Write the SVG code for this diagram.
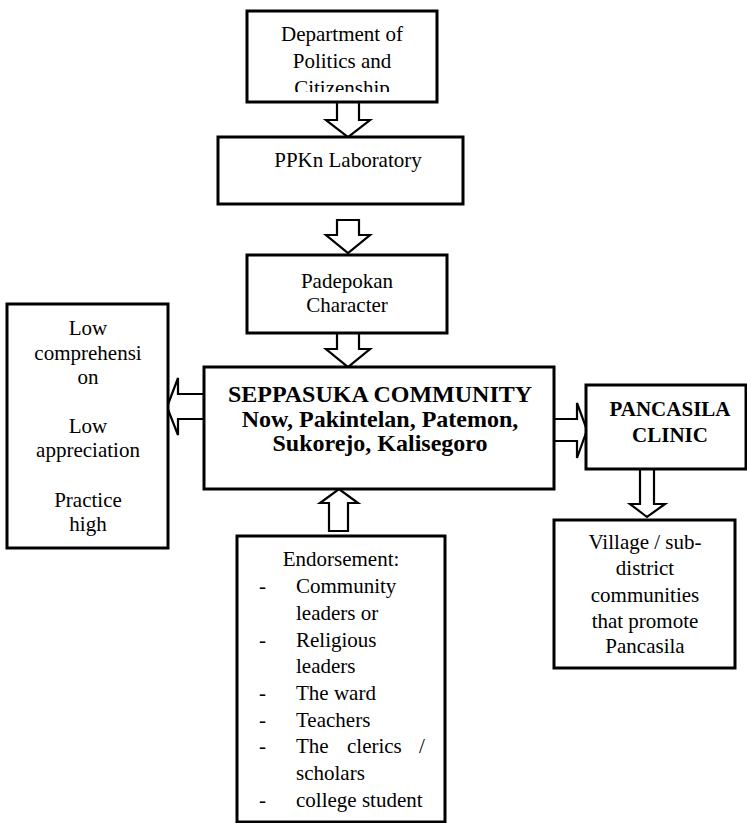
<svg xmlns="http://www.w3.org/2000/svg" width="747" height="823" viewBox="0 0 747 823">
<style>
.box{fill:#fff;stroke:#000;stroke-width:3}
.arr{fill:#fff;stroke:#000;stroke-width:2.2;stroke-linejoin:miter}
text{font-family:'Liberation Serif','Times New Roman',Tinos,Times,'DejaVu Serif',serif;font-size:21px;fill:#000}
.c{text-anchor:middle}
.b{font-weight:bold}
.big{font-size:24px}
</style>
<defs>
<clipPath id="clipTop"><rect x="247" y="11" width="190" height="81"/></clipPath>
</defs>
<rect width="747" height="823" fill="#fff"/>
<g id="connectors">
<polygon class="arr" points="337,102 359,102 359,120 370,120 348,137 326,120 337,120"/>
<polygon class="arr" points="337,220 359,220 359,235 370,235 348,253 326,235 337,235"/>
<polygon class="arr" points="337,333 359,333 359,349 370,349 348,367 326,349 337,349"/>
<polygon class="arr" points="204,394 178,394 178,378 167,407 178,435 178,419 204,419"/>
<polygon class="arr" points="554,419 577,419 577,403 587,430 577,458 577,441 554,441"/>
<polygon class="arr" points="640,469 654,469 654,504 665,504 647,517 630,504 640,504"/>
<polygon class="arr" points="329,531 348,531 348,503 358,503 339,489 320,503 329,503"/>
</g>
<g id="dept">
<rect class="box" x="247" y="11" width="190" height="91"/>
<g clip-path="url(#clipTop)">
<text class="c" x="342" y="41">Department of</text>
<text class="c" x="342" y="68">Politics and</text>
<text class="c" x="342" y="95">Citizenship</text>
</g>
</g>
<g id="ppkn">
<rect class="box" x="218" y="137" width="245" height="67"/>
<text class="c" x="348" y="167">PPKn Laboratory</text>
</g>
<g id="padepokan">
<rect class="box" x="247" y="255" width="200" height="78"/>
<text class="c" x="347" y="288">Padepokan</text>
<text class="c" x="347" y="312">Character</text>
</g>
<g id="seppasuka">
<rect class="box" x="204" y="367" width="350" height="122"/>
<text class="c b big" x="380" y="402">SEPPASUKA COMMUNITY</text>
<text class="c b big" x="380" y="427">Now, Pakintelan, Patemon,</text>
<text class="c b big" x="380" y="451">Sukorejo, Kalisegoro</text>
</g>
<g id="low">
<rect class="box" x="7" y="304" width="161" height="244"/>
<text class="c" x="88" y="335">Low</text>
<text class="c" x="88" y="360">comprehensi</text>
<text class="c" x="88" y="384">on</text>
<text class="c" x="88" y="433">Low</text>
<text class="c" x="88" y="457">appreciation</text>
<text class="c" x="88" y="507">Practice</text>
<text class="c" x="88" y="531">high</text>
</g>
<g id="pancasila">
<rect class="box" x="586" y="385" width="160" height="84"/>
<text class="c b" x="670" y="416">PANCASILA</text>
<text class="c b" x="670" y="442">CLINIC</text>
</g>
<g id="village">
<rect class="box" x="554" y="520" width="181" height="148"/>
<text class="c" x="645" y="549">Village / sub-</text>
<text class="c" x="645" y="575">district</text>
<text class="c" x="645" y="602">communities</text>
<text class="c" x="645" y="628">that promote</text>
<text class="c" x="645" y="653">Pancasila</text>
</g>
<g id="endorsement">
<rect class="box" x="237" y="536" width="208" height="286"/>
<text class="c" x="341" y="566">Endorsement:</text>
<text x="259" y="593">-</text><text x="296" y="593">Community</text>
<text x="296" y="620">leaders or</text>
<text x="259" y="647">-</text><text x="296" y="647">Religious</text>
<text x="296" y="673">leaders</text>
<text x="259" y="700">-</text><text x="296" y="700">The ward</text>
<text x="259" y="727">-</text><text x="296" y="727">Teachers</text>
<text x="259" y="753">-</text><text x="296" y="753">The</text><text x="347" y="753">clerics</text><text x="419" y="753">/</text>
<text x="296" y="780">scholars</text>
<text x="259" y="807">-</text><text x="296" y="807">college student</text>
</g>
</svg>
